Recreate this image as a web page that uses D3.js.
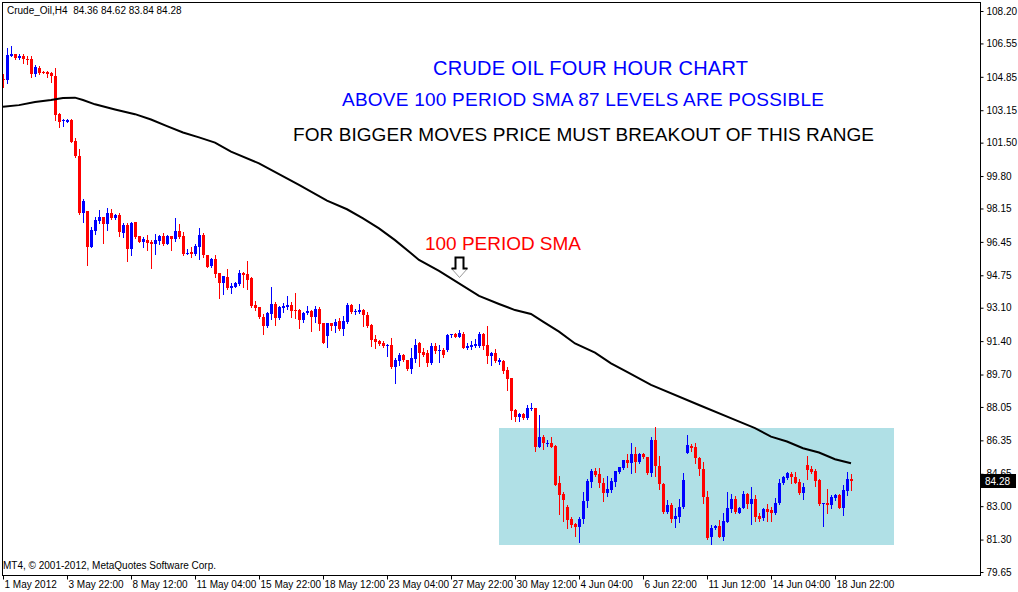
<!DOCTYPE html>
<html>
<head>
<meta charset="utf-8">
<script src="https://cdn.jsdelivr.net/npm/d3@7"></script>
<style>
  body { margin: 0; background: #fff; }
  svg { display: block; font-family: "Liberation Sans", Arial, sans-serif; }
  .axis text { font-size: 10px; fill: #000; }
  .axis line { stroke: #000; }
</style>
</head>
<body>
<div id="chart"></div>
<script>
var symbol = 'Crude_Oil,H4';

var openVals = [
  104.74,104.69,105.92,106.01,105.79,105.91,105.75,105.75,104.99,105.30,
  105.11,105.09,105.06,104.89,102.96,102.60,102.56,102.65,101.60,100.82,
  97.93,98.00,96.20,97.02,97.51,97.70,97.36,97.93,97.65,97.81,
  96.91,97.31,96.08,97.46,96.75,96.46,96.54,96.46,96.34,96.47,
  96.75,96.34,96.75,96.59,97.00,96.75,95.83,95.93,95.83,96.20,
  96.81,95.78,95.22,95.56,94.85,94.37,94.64,94.10,94.17,94.31,
  94.88,94.81,94.59,93.24,93.12,92.64,92.17,92.78,93.29,92.56,
  93.10,93.15,93.24,92.98,92.98,92.47,92.81,92.93,92.64,93.05,
  92.30,91.66,92.30,92.17,92.44,92.00,92.39,93.24,92.90,92.90,
  92.98,92.73,92.22,91.49,91.40,91.32,91.20,91.20,90.10,90.40,
  90.71,90.42,89.98,90.49,91.28,90.86,90.77,90.27,91.15,90.91,
  90.94,90.94,91.71,91.76,91.62,91.76,91.06,91.11,91.15,91.15,
  91.76,91.20,90.64,90.81,90.35,90.40,89.93,89.50,87.89,87.52,
  87.69,87.47,87.94,87.98,86.03,86.53,86.20,86.20,86.06,84.16,
  83.62,82.97,82.33,82.09,81.95,82.33,83.26,84.24,84.80,84.63,
  84.16,83.65,83.82,84.24,84.72,84.92,85.35,85.22,85.66,85.27,
  85.66,85.49,84.71,86.37,85.05,84.13,82.72,83.06,82.33,82.47,
  82.95,85.73,86.07,86.00,85.44,84.88,83.45,81.42,81.88,82.00,
  81.45,82.22,82.84,83.35,82.67,82.89,83.62,83.11,83.35,82.50,
  82.39,82.84,82.78,82.67,83.15,84.17,84.42,84.64,84.47,84.25,
  83.66,85.10,84.88,84.81,84.34,83.11,83.18,83.06,83.44,83.57,
  82.93,83.79,84.36
];
var highVals = [
  104.97,106.30,106.41,106.01,105.99,106.01,105.91,105.91,105.45,105.40,
  105.16,105.14,105.11,105.31,103.02,102.68,102.70,102.70,101.72,101.19,
  98.63,98.03,97.22,97.70,98.07,97.73,98.15,98.10,97.87,97.90,
  97.39,97.39,97.46,97.46,96.75,96.71,96.78,96.54,96.85,96.80,
  96.92,96.80,96.75,97.66,97.36,96.97,96.07,96.20,96.34,97.14,
  96.88,95.78,95.61,95.78,94.88,94.71,95.05,94.34,94.42,95.02,
  94.93,95.48,94.64,93.44,93.15,92.78,92.88,94.14,93.41,93.19,
  93.32,93.69,93.41,93.86,93.02,92.90,93.19,92.98,93.19,93.12,
  92.34,92.34,92.34,92.51,92.56,92.68,93.32,93.29,93.05,93.27,
  93.02,92.88,92.27,91.71,91.46,91.42,91.25,91.57,90.52,90.78,
  90.73,90.44,91.06,91.49,91.33,91.03,90.94,91.28,91.32,91.20,
  91.03,91.76,91.76,91.83,91.96,91.88,91.28,91.42,91.49,91.84,
  91.83,92.17,90.86,90.98,90.52,90.44,90.06,89.54,87.92,87.76,
  87.72,88.15,88.23,88.01,87.64,86.62,86.36,86.50,86.09,84.53,
  83.73,83.06,82.46,82.16,82.46,83.72,84.40,84.87,84.92,84.92,
  84.41,84.55,84.41,84.80,85.01,85.35,85.65,86.24,86.00,85.69,
  85.69,85.52,86.51,87.05,85.56,84.17,83.32,83.15,82.89,83.37,
  84.68,86.63,86.17,86.24,85.49,85.27,83.79,82.05,82.05,82.30,
  82.64,83.74,83.62,83.52,82.94,83.79,83.69,83.96,83.57,82.64,
  82.89,83.11,82.94,83.40,84.37,84.54,84.76,84.76,84.76,84.37,
  84.20,85.56,85.02,84.88,84.37,83.18,83.86,83.57,83.62,83.62,
  84.08,84.76,84.62
];
var lowVals = [
  104.35,104.52,105.92,105.74,105.74,105.57,105.50,104.86,104.91,104.99,
  105.02,104.82,104.60,102.65,102.31,102.36,102.56,101.51,100.78,97.87,
  97.47,95.27,96.20,96.85,97.42,96.41,97.05,97.60,97.61,96.75,
  96.68,95.49,95.78,96.63,96.44,96.20,96.03,95.12,95.83,96.34,
  96.27,96.34,96.03,96.49,96.66,95.78,95.83,95.68,95.78,95.59,
  95.69,95.15,95.19,94.68,93.61,93.80,94.03,93.86,94.17,94.25,
  94.14,94.05,93.15,92.98,92.56,91.76,92.13,92.51,92.22,92.52,
  92.90,93.02,92.61,92.56,92.08,92.39,92.78,91.93,92.39,91.96,
  91.29,91.12,91.96,91.88,91.96,91.71,92.34,92.85,92.78,92.85,
  92.17,92.13,91.17,91.03,91.20,91.12,90.66,90.01,89.25,90.20,
  90.40,89.93,89.76,90.35,90.13,90.64,90.13,90.23,90.81,90.35,
  90.61,90.91,91.59,91.59,91.59,91.03,91.00,91.00,91.11,91.08,
  90.98,90.27,90.18,90.35,90.23,89.79,88.91,87.42,87.35,87.33,
  87.45,87.42,87.89,85.82,85.99,85.89,86.06,85.99,84.06,82.60,
  82.26,81.87,81.95,81.48,81.19,82.12,82.94,83.99,84.53,83.99,
  83.28,83.53,83.73,84.02,84.67,84.87,84.97,84.68,84.76,85.18,
  85.44,84.64,84.54,84.54,83.86,82.67,82.67,82.22,81.96,82.17,
  82.90,85.69,85.83,85.22,84.59,83.15,81.32,81.08,81.83,81.42,
  81.28,82.17,82.72,82.64,82.64,82.89,82.89,82.10,82.27,82.27,
  82.30,82.27,82.27,82.61,83.11,84.13,84.37,84.20,84.17,83.62,
  83.37,84.37,84.71,84.03,83.06,81.99,82.67,82.89,83.32,82.89,
  82.56,83.57,83.84
];
var closeVals = [
  104.70,105.96,106.01,105.79,105.92,105.74,105.72,104.99,105.33,105.06,
  105.06,104.97,104.91,102.90,102.56,102.63,102.65,101.55,100.82,97.90,
  98.53,96.20,97.05,97.56,97.70,97.36,97.93,97.65,97.81,96.97,
  97.31,96.08,97.42,96.68,96.46,96.58,96.41,96.36,96.54,96.75,
  96.34,96.75,96.59,97.00,96.71,95.83,95.88,95.83,96.24,96.80,
  95.78,95.19,95.57,94.81,94.37,94.71,94.08,94.20,94.37,94.85,
  94.76,94.51,93.19,93.07,92.61,92.17,92.85,93.29,92.56,93.15,
  93.19,93.24,92.95,92.96,92.47,92.81,92.93,92.64,93.02,92.27,
  91.32,92.30,92.17,92.39,92.00,92.44,93.24,92.90,92.95,92.98,
  92.73,92.17,91.46,91.37,91.25,91.17,91.22,90.06,90.44,90.71,
  90.44,89.98,90.52,91.20,90.77,90.69,90.30,91.15,90.91,90.94,
  90.69,91.71,91.76,91.62,91.83,91.06,91.17,91.18,91.23,91.76,
  91.15,90.64,90.81,90.40,90.44,89.89,89.45,87.86,87.52,87.69,
  87.47,88.01,87.98,86.03,86.53,86.20,86.23,86.03,84.07,83.57,
  83.31,82.29,82.04,81.95,82.33,83.26,84.29,84.80,84.58,84.16,
  83.65,83.85,84.28,84.79,84.97,85.35,85.21,85.66,85.27,85.66,
  85.49,84.71,86.37,85.02,84.12,82.72,83.06,82.33,82.50,82.95,
  84.34,86.12,85.95,85.44,84.88,83.45,81.37,81.88,82.00,81.45,
  82.25,82.89,83.35,82.72,82.89,83.62,83.11,83.35,82.47,82.35,
  82.84,82.69,82.67,83.15,84.20,84.47,84.71,84.47,84.20,83.66,
  84.00,84.85,84.76,84.30,83.11,83.18,83.06,83.49,83.57,82.93,
  83.83,84.37,84.28
];

// 100 period SMA, read at sample bars
var smaBars = [0,4,8,12,15,18,20,23,28,33,37,41,45,49,53,57,64,74,81,86,90,94,98,102,104,
  109,119,124,128,132,135,139,143,148,152,156,162,174,183,188,192,196,200,204,208,212];
var smaVals = [103.33,103.41,103.57,103.67,103.77,103.79,103.67,103.45,103.19,102.95,102.68,
  102.34,102.02,101.77,101.50,101.04,100.45,99.35,98.55,98.11,97.65,97.14,96.54,95.87,95.53,
  94.97,93.70,93.29,92.98,92.78,92.39,91.88,91.28,90.81,90.27,89.84,89.17,88.15,87.39,86.97,
  86.54,86.29,85.95,85.73,85.39,85.18];

// range box: bar from/to, price top/bottom
var rangeBars = [124, 222.75];
var rangePrices = [86.98, 81.02];

var yTicks = [108.20,106.55,104.85,103.15,101.50,99.80,98.15,96.45,94.75,93.10,91.40,
  89.70,88.05,86.35,84.65,83.00,81.30,79.65];
var xTickBars = [0,16,32,48,64,80,96,112,128,144,160,176,192,208];
var xTickLabels = ['1 May 2012','3 May 22:00','8 May 12:00','11 May 04:00','15 May 22:00',
  '18 May 12:00','23 May 04:00','27 May 22:00','30 May 12:00','4 Jun 04:00','6 Jun 22:00',
  '11 Jun 12:00','14 Jun 04:00','18 Jun 22:00'];

(function(){
  var W = 1018, H = 592;
  var frame = {left: 2, top: 2, right: 980, bottom: 575};

  var bars = openVals.map(function(o, i) {
    return {i: i, o: o, h: highVals[i], l: lowVals[i], c: closeVals[i]};
  });

  var x = d3.scaleLinear().domain([0, bars.length - 1]).range([3, 851]);
  var y = d3.scaleLinear().domain([79.65, 108.20]).range([572, 11]);

  var svg = d3.select('#chart')
    .append('svg')
    .attr('width', W)
    .attr('height', H);

  svg.append('rect')
    .attr('width', W)
    .attr('height', H)
    .attr('fill', '#fff');

  // range rectangle (behind price)
  svg.append('rect')
    .attr('x', Math.round(x(rangeBars[0])))
    .attr('y', Math.round(y(rangePrices[0])))
    .attr('width', Math.round(x(rangeBars[1]) - x(rangeBars[0])))
    .attr('height', Math.round(y(rangePrices[1]) - y(rangePrices[0])))
    .attr('fill', '#b0e0e6');

  var candles = svg.append('g')
    .attr('shape-rendering', 'crispEdges')
    .selectAll('g')
    .data(bars)
    .enter()
    .append('g')
    .attr('fill', function(d) {return d.c >= d.o ? '#0000ff' : '#ff0000';})
    .attr('stroke', function(d) {return d.c >= d.o ? '#0000ff' : '#ff0000';});

  candles.append('line')
    .attr('x1', function(d) {return Math.round(x(d.i)) + 0.5;})
    .attr('x2', function(d) {return Math.round(x(d.i)) + 0.5;})
    .attr('y1', function(d) {return Math.round(y(d.h));})
    .attr('y2', function(d) {return Math.round(y(d.l)) + 1;});

  candles.append('rect')
    .attr('stroke', 'none')
    .attr('x', function(d) {return Math.round(x(d.i)) - 1;})
    .attr('width', 3)
    .attr('y', function(d) {return Math.round(y(Math.max(d.o, d.c)));})
    .attr('height', function(d) {
      return Math.max(1, Math.round(y(Math.min(d.o, d.c))) - Math.round(y(Math.max(d.o, d.c))));
    });

  // SMA line
  var sma = smaBars.map(function(b, i) {return {i: b, v: smaVals[i]};});
  svg.append('path')
    .datum(sma)
    .attr('fill', 'none')
    .attr('stroke', '#000')
    .attr('stroke-width', 2)
    .attr('d', d3.line()
      .x(function(d) {return x(d.i);})
      .y(function(d) {return y(d.v);}));

  // frame
  svg.append('rect')
    .attr('x', frame.left + 0.5)
    .attr('y', frame.top + 0.5)
    .attr('width', frame.right - frame.left)
    .attr('height', frame.bottom - frame.top)
    .attr('fill', 'none')
    .attr('stroke', '#000')
    .attr('shape-rendering', 'crispEdges');

  // price axis
  var yAxis = svg.append('g')
    .attr('class', 'axis')
    .attr('transform', 'translate(' + (frame.right + 0.5) + ',0)')
    .call(d3.axisRight(y).tickValues(yTicks).tickSize(3).tickPadding(3)
      .tickFormat(d3.format('.2f')));
  yAxis.select('.domain').remove();
  yAxis.attr('font-family', null).attr('font-size', null);

  // time axis
  var xAxis = svg.append('g')
    .attr('class', 'axis')
    .attr('transform', 'translate(0,' + (frame.bottom + 0.5) + ')')
    .call(d3.axisBottom(x).tickValues(xTickBars).tickSize(4)
      .tickFormat(function(d, i) {return xTickLabels[i];}));
  xAxis.select('.domain').remove();
  xAxis.attr('font-family', null).attr('font-size', null);
  xAxis.selectAll('text')
    .attr('text-anchor', 'start')
    .attr('x', 1)
    .attr('y', 5);
  xAxis.selectAll('line').attr('x1', 0).attr('x2', 0);

  // last price label
  var last = bars[bars.length - 1];
  var ly = Math.round(y(last.c));
  svg.append('rect')
    .attr('x', frame.right + 1)
    .attr('y', ly - 7)
    .attr('width', 35)
    .attr('height', 14)
    .attr('fill', '#000');
  svg.append('text')
    .attr('x', frame.right + 5)
    .attr('y', ly + 4)
    .attr('font-size', 10)
    .attr('fill', '#fff')
    .text(d3.format('.2f')(last.c));

  // header and footer
  svg.append('text')
    .attr('x', 7)
    .attr('y', 14)
    .attr('font-size', 10)
    .style('white-space', 'pre')
    .text(symbol + '  ' + [last.o, last.h, last.l, last.c].map(d3.format('.2f')).join(' '));
  svg.append('text')
    .attr('x', 3)
    .attr('y', 569)
    .attr('font-size', 10)
    .text('MT4, \u00a9 2001-2012, MetaQuotes Software Corp.');

  // annotations
  var notes = [
    {t: 'CRUDE OIL FOUR HOUR CHART', x: 433, y: 75, s: 20, w: 315, c: '#0000ff'},
    {t: 'ABOVE 100 PERIOD SMA 87 LEVELS ARE POSSIBLE', x: 342, y: 106, s: 19, w: 482, c: '#0000ff'},
    {t: 'FOR BIGGER MOVES PRICE MUST BREAKOUT OF THIS RANGE', x: 293, y: 141, s: 19, w: 581, c: '#000'},
    {t: '100 PERIOD SMA', x: 425, y: 250, s: 19, w: 156, c: '#ff0000'}
  ];
  svg.selectAll('.note')
    .data(notes)
    .enter()
    .append('text')
    .attr('class', 'note')
    .attr('x', function(d) {return d.x;})
    .attr('y', function(d) {return d.y;})
    .attr('font-size', function(d) {return d.s;})
    .attr('textLength', function(d) {return d.w;})
    .attr('lengthAdjust', 'spacing')
    .attr('fill', function(d) {return d.c;})
    .text(function(d) {return d.t;});

  // hollow down arrow
  var arrow = svg.append('g').attr('transform', 'translate(451,257)');
  arrow.append('path')
    .attr('d', 'M4.5,11.5 V0.5 H12.5 V11.5 H16.5 L8.5,20.5 L0.5,11.5 Z')
    .attr('fill', '#fff')
    .attr('stroke', '#999')
    .attr('stroke-width', 1);
  arrow.append('path')
    .attr('d', 'M0.5,11.5 H4.5 V0.5 H12.5 V11.5 H16.5')
    .attr('fill', 'none')
    .attr('stroke', '#000')
    .attr('stroke-width', 2);
})();
</script>
</body>
</html>
